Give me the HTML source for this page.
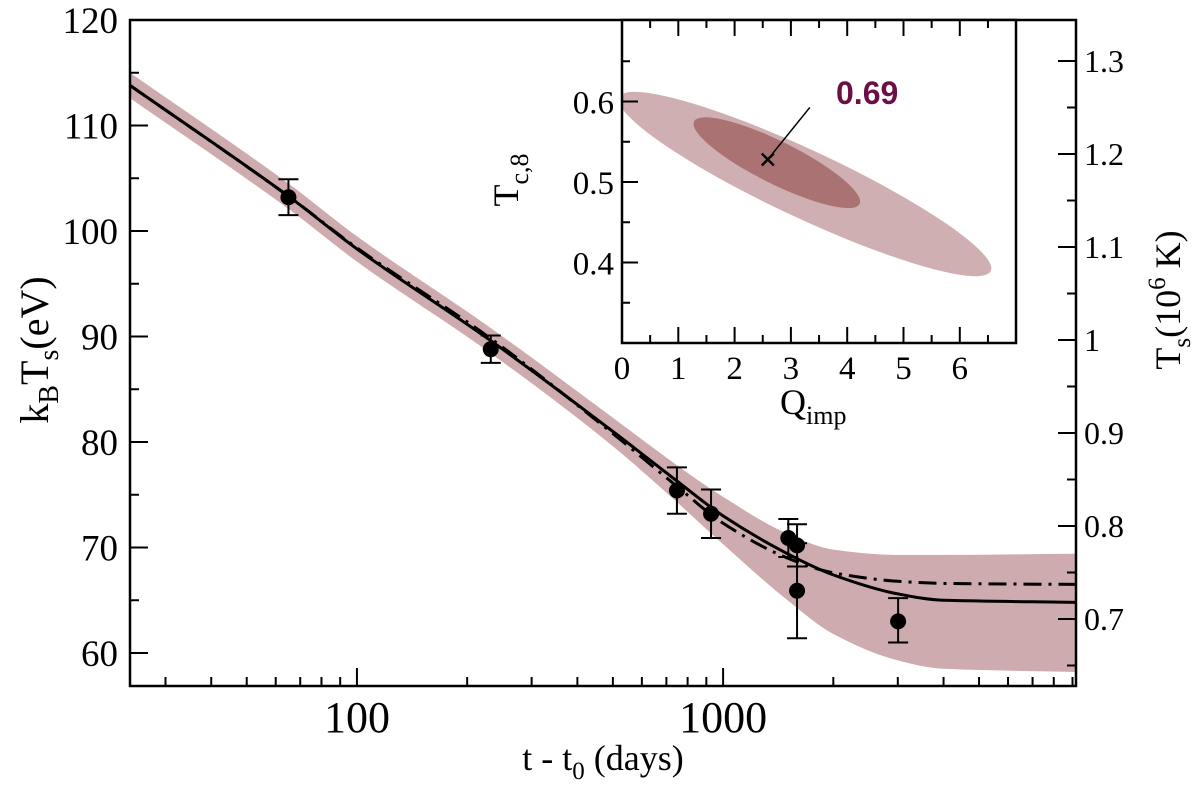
<!DOCTYPE html>
<html><head><meta charset="utf-8"><style>
html,body{margin:0;padding:0;background:#fff}
svg{display:block;font-family:"Liberation Serif",serif}
</style></head><body>
<svg id="chart" width="1200" height="788" viewBox="0 0 1200 788">
<g id="main"></g><g id="inset"></g>
</svg>
<script>
// ---- main chart data ----
const obsT = [65, 232, 748, 927, 1507, 1592, 1592, 3006];
const obsKT = [103.2, 88.8, 75.4, 73.2, 70.9, 70.2, 65.9, 63.0];
const obsErrUp = [1.7, 1.3, 2.2, 2.3, 1.8, 2.0, 4.5, 2.2];
const obsErrDn = [1.7, 1.3, 2.2, 2.3, 1.8, 2.0, 4.5, 2.0];
const curveT = [24, 65, 100, 232, 500, 748, 1000, 1500, 2000, 3000, 4000, 9200];
const solidKT = [113.8, 103.3, 98.3, 89.6, 81.0, 76.3, 73.0, 69.4, 67.4, 65.6, 65.0, 64.8];
const dashKT  = [113.8, 103.3, 98.4, 89.8, 80.8, 75.8, 72.3, 69.0, 67.6, 66.8, 66.6, 66.5];
const bandHi  = [115.0, 104.5, 99.5, 90.8, 82.3, 77.8, 74.8, 71.3, 69.8, 69.3, 69.3, 69.4];
const bandLo  = [112.6, 102.1, 97.1, 88.4, 79.6, 74.3, 70.3, 65.0, 61.8, 59.3, 58.5, 58.2];
const yTicksL = [60, 70, 80, 90, 100, 110, 120];
const yTicksR = [0.7, 0.8, 0.9, 1, 1.1, 1.2, 1.3];
const xTicksMain = [100, 1000];
// ---- inset data ----
const insetXTicks = [0, 1, 2, 3, 4, 5, 6];
const insetYTicks = [0.4, 0.5, 0.6];
const outerEll = [3.25, 0.4975, 3.3, -0.108, 0.165];   // cx, cy, half-major dQ, dT, minor ratio
const innerEll = [2.75, 0.524, 1.47, -0.0512, 0.23];
const bestFit = [2.59, 0.528];
const bestLabel = ["0.69"];

const NS = "http://www.w3.org/2000/svg";
function mk(parent, tag, attrs, name){const e=document.createElementNS(NS,tag);for(const k in attrs)e.setAttribute(k,attrs[k]);


parent.appendChild(e);return e;}
const main=document.getElementById('main'), ins=document.getElementById('inset');
const L=130,R=1076,T=20,B=686;
const lx0=Math.log10(24), lx1=Math.log10(9200);
const X=t=>L+(Math.log10(t)-lx0)/(lx1-lx0)*(R-L);
const Y=v=>20+(120-v)*10.55;
const YR=v=>340-(v-1)*930;
function smooth(ts,vs){const n=ts.length;const xs=ts.map(X),ys=vs.map(Y);
const d=[];for(let i=0;i<n-1;i++)d.push((ys[i+1]-ys[i])/(xs[i+1]-xs[i]));
const m=[d[0]];for(let i=1;i<n-1;i++){m.push(d[i-1]*d[i]<=0?0:2/(1/d[i-1]+1/d[i]));}m.push(d[n-2]);
let p='M'+xs[0].toFixed(1)+','+ys[0].toFixed(1);
for(let i=0;i<n-1;i++){const h=(xs[i+1]-xs[i])/3;
p+='C'+(xs[i]+h).toFixed(1)+','+(ys[i]+m[i]*h).toFixed(1)+' '+(xs[i+1]-h).toFixed(1)+','+(ys[i+1]-m[i+1]*h).toFixed(1)+' '+xs[i+1].toFixed(1)+','+ys[i+1].toFixed(1);}
return p;}
mk(main,'clipPath',{id:'mclip'},'main-clip');
mk(document.getElementById('mclip'),'rect',{x:L,y:T,width:R-L,height:B-T},'clip-rect');
const g=mk(main,'g',{'clip-path':'url(#mclip)'},'plot-area');
const hi=smooth(curveT,bandHi);
const loRev=smooth(curveT.slice().reverse(),bandLo.slice().reverse()).replace(/^M/,'L');
mk(g,'path',{d:hi+loRev+'Z',fill:'#cdabae'},'uncertainty-band');
mk(g,'path',{d:smooth(curveT,dashKT),fill:'none',stroke:'#000','stroke-width':3,'stroke-dasharray':'18,7,3,7'},'dash-dot-model-line');
mk(g,'path',{d:smooth(curveT,solidKT),fill:'none',stroke:'#000','stroke-width':3},'solid-model-line');
obsT.forEach((t,i)=>{const x=X(t),yu=Y(obsKT[i]+obsErrUp[i]),yd=Y(obsKT[i]-obsErrDn[i]);
mk(g,'path',{d:`M${x},${yu}V${yd}M${x-10},${yu}h20M${x-10},${yd}h20`,stroke:'#000','stroke-width':2,fill:'none'},'error-bar');
mk(g,'circle',{cx:x,cy:Y(obsKT[i]),r:8,fill:'#000'},'data-point');});
mk(main,'rect',{x:L,y:T,width:R-L,height:B-T,fill:'none',stroke:'#000','stroke-width':2.5},'plot-frame');
for(let v=60;v<=120;v+=5){const maj=v%10==0;mk(main,'line',{x1:L,x2:L+(maj?18:9),y1:Y(v),y2:Y(v),stroke:'#000','stroke-width':2},'y-tick');}
yTicksL.forEach(v=>{const t=mk(main,'text',{x:L-12,y:Y(v)+13,'text-anchor':'end','font-size':37},'y-tick-label');t.textContent=v;});
for(let k=13;k<=27;k++){const v=k*0.05;const y=YR(v);if(y<T||y>B)continue;const maj=k%2==0;
mk(main,'line',{x1:R,x2:R-(maj?18:9),y1:y,y2:y,stroke:'#000','stroke-width':2},'right-y-tick');}
yTicksR.forEach(v=>{const t=mk(main,'text',{x:R+8,y:YR(v)+11,'font-size':32},'right-y-tick-label');t.textContent=v;});
for(let e=1;e<=3;e++)for(let m=1;m<=9;m++){const t=m*Math.pow(10,e);if(t<24||t>9200)continue;
mk(main,'line',{x1:X(t),x2:X(t),y1:B,y2:B-(m==1?18:9),stroke:'#000','stroke-width':2},'x-tick');}
xTicksMain.forEach(v=>{const t=mk(main,'text',{x:X(v),y:B+46,'text-anchor':'middle','font-size':44},'x-tick-label');t.textContent=v;});
const xt=mk(main,'text',{x:603,y:770,'text-anchor':'middle','font-size':36},'x-axis-title');
xt.innerHTML='t - t<tspan font-size="25" dy="9">0</tspan><tspan dy="-9"> (days)</tspan>';
const yt=mk(main,'text',{transform:'translate(48,350) rotate(-90)','text-anchor':'middle','font-size':40},'y-axis-title');
yt.innerHTML='k<tspan font-size="28" dy="10">B</tspan><tspan dy="-10">T</tspan><tspan font-size="28" dy="10">s</tspan><tspan dy="-10">(eV)</tspan>';
const yr=mk(main,'text',{transform:'translate(1180,300) rotate(-90)','text-anchor':'middle','font-size':36},'right-y-axis-title');
yr.innerHTML='T<tspan font-size="25" dy="10">s</tspan><tspan dy="-10">(10</tspan><tspan font-size="25" dy="-15">6</tspan><tspan dy="15"> K)</tspan>';
// ---- inset ----
const IL=622,IR=1016,IT=20,IB=343;
const IX=q=>IL+q*56.3, IY=v=>IB-(v-0.3)*805;
mk(ins,'rect',{x:IL,y:IT,width:IR-IL,height:IB-IT,fill:'#fff'},'inset-background');
mk(ins,'clipPath',{id:'iclip'},'inset-clip');
mk(document.getElementById('iclip'),'rect',{x:IL,y:IT,width:IR-IL,height:IB-IT},'clip-rect');
const ig=mk(ins,'g',{'clip-path':'url(#iclip)'},'inset-area');
function ell(p,fill,name){const cx=IX(p[0]),cy=IY(p[1]);const dx=p[2]*56.3,dy=-p[3]*805;
const a=Math.hypot(dx,dy),ang=Math.atan2(dy,dx)*180/Math.PI;
mk(ig,'ellipse',{cx:cx,cy:cy,rx:a,ry:a*p[4],fill:fill,transform:`rotate(${ang} ${cx} ${cy})`},name);}
ell(outerEll,'#cfafb2','confidence-ellipse-outer');
ell(innerEll,'#aa7272','confidence-ellipse-inner');
const bx=IX(bestFit[0]),by=IY(bestFit[1]);
mk(ins,'path',{d:`M${bx-6},${by-6}l12,12M${bx+6},${by-6}l-12,12`,stroke:'#000','stroke-width':2.5},'best-fit-marker');
mk(ins,'line',{x1:bx,y1:by,x2:bx+42,y2:by-52,stroke:'#000','stroke-width':1.5},'annotation-line');
const bl=mk(ins,'text',{x:836,y:104,'font-family':'Liberation Sans, sans-serif','font-weight':'bold','font-size':32,fill:'#6b0f47'},'best-fit-label');bl.textContent=bestLabel[0];
mk(ins,'rect',{x:IL,y:IT,width:IR-IL,height:IB-IT,fill:'none',stroke:'#000','stroke-width':2.5},'inset-frame');
for(let k=0;k<=13;k++){const x=IX(k*0.5);if(x>IR)continue;const h=k%2==0?16:8;
mk(ins,'line',{x1:x,x2:x,y1:IB,y2:IB-h,stroke:'#000','stroke-width':2},'inset-x-tick');
mk(ins,'line',{x1:x,x2:x,y1:IT,y2:IT+h,stroke:'#000','stroke-width':2},'inset-x-tick-top');}
for(let k=7;k<=13;k++){const y=IY(k*0.05);const h=k%2==0?16:8;
mk(ins,'line',{x1:IL,x2:IL+h,y1:y,y2:y,stroke:'#000','stroke-width':2},'inset-y-tick');}
insetXTicks.forEach(v=>{const t=mk(ins,'text',{x:IX(v),y:IB+36,'text-anchor':'middle','font-size':33},'inset-x-tick-label');t.textContent=v;});
insetYTicks.forEach(v=>{const t=mk(ins,'text',{x:IL-8,y:IY(v)+12,'text-anchor':'end','font-size':33},'inset-y-tick-label');t.textContent=v;});
const qx=mk(ins,'text',{x:780,y:414,'font-size':36},'inset-x-axis-title');
qx.innerHTML='Q<tspan font-size="26" dy="10">imp</tspan>';
const ty=mk(ins,'text',{transform:'translate(518,180) rotate(-90)','text-anchor':'middle','font-size':36},'inset-y-axis-title');
ty.innerHTML='T<tspan font-size="26" dy="10">c,8</tspan>';
</script>
</body></html>
